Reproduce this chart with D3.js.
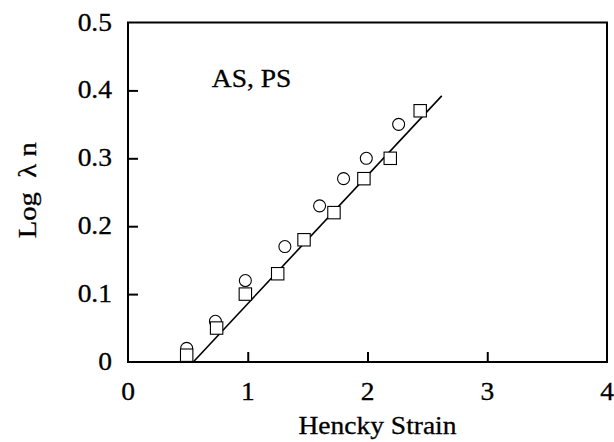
<!DOCTYPE html>
<html>
<head>
<meta charset="utf-8">
<script src="https://cdn.jsdelivr.net/npm/d3@7"></script>
<style>
  body { margin: 0; background: #fff; }
  text { font-family: "Liberation Serif", "Times New Roman", serif; fill: #000; stroke: #000; stroke-width: 0.3px; }
</style>
</head>
<body>
<div id="chart"></div>
<script>
// data
var squareX = [0.49, 0.74, 0.98, 1.25, 1.47, 1.72, 1.97, 2.19, 2.44];
var squareY = [0.01, 0.05, 0.10, 0.13, 0.18, 0.22, 0.27, 0.30, 0.37];
var circleX = [0.49, 0.73, 0.98, 1.31, 1.60, 1.80, 1.99, 2.26];
var circleY = [0.02, 0.06, 0.12, 0.17, 0.23, 0.27, 0.30, 0.35];
var fitX = [0.545, 2.62];
var fitY = [0.0, 0.392];
var xTicks = [0, 1, 2, 3, 4];
var yTicks = [0, 0.1, 0.2, 0.3, 0.4, 0.5];
var yTickLabels = ["0", "0.1", "0.2", "0.3", "0.4", "0.5"];

var svgWidth = 614, svgHeight = 442;
var margin = { top: 22.5, right: 7, bottom: 80, left: 128 };
var plotWidth = svgWidth - margin.left - margin.right;
var plotHeight = svgHeight - margin.top - margin.bottom;
var fontSize = 25;
var stretch = 1.1; // the scanned lettering is a bit wide

var svg = d3.select("#chart").append("svg")
  .attr("width", svgWidth)
  .attr("height", svgHeight);

var g = svg.append("g")
  .attr("transform", `translate(${margin.left}, ${margin.top})`);

var x = d3.scaleLinear().domain([0, 4]).range([0, plotWidth]);
var y = d3.scaleLinear().domain([0, 0.5]).range([plotHeight, 0]);

// inside ticks, no labels from the axis itself
var bottomAxis = d3.axisBottom(x).tickValues([1, 2, 3]).tickSize(-10).tickFormat("");
var leftAxis = d3.axisLeft(y).tickValues([0.1, 0.2, 0.3, 0.4]).tickSize(-10).tickFormat("");

g.append("g")
  .attr("transform", `translate(0, ${plotHeight})`)
  .call(bottomAxis)
  .call(a => a.select(".domain").remove())
  .selectAll("line").attr("stroke", "#000").attr("stroke-width", 2);

g.append("g")
  .call(leftAxis)
  .call(a => a.select(".domain").remove())
  .selectAll("line").attr("stroke", "#000").attr("stroke-width", 2);

// frame
g.append("rect")
  .attr("width", plotWidth)
  .attr("height", plotHeight)
  .attr("fill", "none")
  .attr("stroke", "#000")
  .attr("stroke-width", 2);

// tick labels
g.selectAll(".xlab")
  .data(xTicks)
  .enter()
  .append("text")
  .attr("text-anchor", "middle")
  .attr("font-size", fontSize)
  .attr("transform", d => `translate(${x(d)}, ${plotHeight + 38}) scale(${stretch}, 1)`)
  .text(d => d);

g.selectAll(".ylab")
  .data(yTicks)
  .enter()
  .append("text")
  .attr("text-anchor", "end")
  .attr("font-size", fontSize)
  .attr("transform", d => `translate(-16, ${y(d) + 8}) scale(${stretch}, 1)`)
  .text((d, i) => yTickLabels[i]);

// fitted line
var line = d3.line().x(d => x(d[0])).y(d => y(d[1]));
g.append("path")
  .datum(fitX.map((v, i) => [v, fitY[i]]))
  .attr("d", line)
  .attr("fill", "none")
  .attr("stroke", "#000")
  .attr("stroke-width", 1.6);

// circles
g.selectAll(".circ")
  .data(circleX)
  .enter()
  .append("circle")
  .attr("cx", d => x(d))
  .attr("cy", (d, i) => y(circleY[i]))
  .attr("r", 6)
  .attr("fill", "#fff")
  .attr("stroke", "#000")
  .attr("stroke-width", 1.1);

// squares
var half = 6.2;
g.selectAll(".sq")
  .data(squareX)
  .enter()
  .append("rect")
  .attr("x", d => x(d) - half)
  .attr("y", (d, i) => y(squareY[i]) - half)
  .attr("width", half * 2)
  .attr("height", half * 2)
  .attr("fill", "#fff")
  .attr("stroke", "#000")
  .attr("stroke-width", 1.1);

// annotation
g.append("text")
  .attr("font-size", fontSize)
  .attr("transform", `translate(${x(0.7)}, ${y(0.4) - 3}) scale(${stretch}, 1)`)
  .text("AS, PS");

// axis titles
g.append("text")
  .attr("text-anchor", "middle")
  .attr("font-size", fontSize)
  .attr("transform", `translate(${plotWidth / 2 + 10}, ${plotHeight + 72}) scale(${stretch}, 1)`)
  .text("Hencky Strain");

g.append("text")
  .attr("text-anchor", "middle")
  .attr("font-size", fontSize)
  .attr("transform", `translate(${36 - margin.left}, ${plotHeight / 2 - 2}) rotate(-90) scale(1.15, 1)`)
  .text("Log\u00a0\u00a0λ\u00a0n");
</script>
</body>
</html>
